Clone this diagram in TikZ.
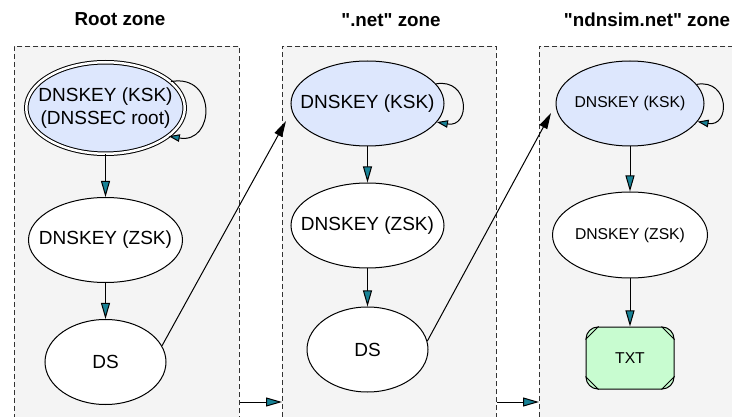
\documentclass[tikz,border=0pt]{standalone}
\usepackage{fontspec}
\setmainfont{Liberation Sans}[Ligatures=TeXOff]
\usetikzlibrary{shapes.geometric,arrows.meta}

\definecolor{zonegray}{RGB}{244,244,244}
\definecolor{kskblue}{RGB}{221,231,253}
\definecolor{txtgreen}{RGB}{200,252,208}
\definecolor{tipteal}{RGB}{24,130,150}

\tikzset{
  zonebox/.style={draw=black!80, fill=zonegray, dash pattern=on 5pt off 3pt, line width=0.8pt, inner sep=0pt, anchor=north west},
  keybox/.style={ellipse, draw, line width=1pt, fill=white, inner xsep=-24pt, inner ysep=-4pt, align=center, font=\fontsize{19}{23}\selectfont},
  kskbox/.style={keybox, fill=kskblue},
  smallkey/.style={font=\fontsize{15.7}{19}\selectfont},
  zonetitle/.style={font=\fontsize{18.8}{23}\selectfont\bfseries},
  keyedge/.style={line width=1pt, -{Triangle[length=16pt, width=9pt, fill=tipteal]}},
  selfedge/.style={line width=1pt, -{Triangle[length=11pt, width=7.5pt, fill=tipteal]}},
  dsedge/.style={line width=1pt, -{Triangle[length=16pt, width=8.5pt]}},
}

\begin{document}
\begin{tikzpicture}[x=1pt, y=1pt]
    \path[use as bounding box, clip] (0,0) rectangle (732,-417);

    % zones
    \node[zonebox, minimum width=225pt, minimum height=390pt] (rootzone) at (14,-46) {};
    \node[zonebox, minimum width=214pt, minimum height=390pt] (netzone) at (282,-46) {};
    \node[zonebox, minimum width=210pt, minimum height=390pt] (simzone) at (539,-46) {};

    \node[zonetitle] (roottitle) at (120,-19) {Root zone};
    \node[zonetitle] (nettitle) at (391,-20) {".net" zone};
    \node[zonetitle] (simtitle) at (647,-20) {"ndnsim.net" zone};

    % root zone
    \node[kskbox, double, double distance=2.5pt, minimum width=158.5pt, minimum height=91.5pt] (rksk) at (105.5,-108) {DNSKEY (KSK)\\(DNSSEC root)};
    \node[keybox, minimum width=154pt, minimum height=85pt] (rzsk) at (105.5,-240) {DNSKEY (ZSK)};
    \node[keybox, minimum width=121pt, minimum height=85pt] (rds) at (105.5,-362) {DS};

    % .net zone
    \node[kskbox, minimum width=153pt, minimum height=85pt] (nksk) at (367.5,-103.5) {DNSKEY (KSK)};
    \node[keybox, minimum width=153pt, minimum height=85pt] (nzsk) at (367.5,-225.5) {DNSKEY (ZSK)};
    \node[keybox, minimum width=121pt, minimum height=85pt] (nds) at (367.5,-349.5) {DS};

    % ndnsim.net zone
    \node[kskbox, smallkey, minimum width=148pt, minimum height=85pt] (sksk) at (630,-103.5) {DNSKEY (KSK)};
    \node[keybox, smallkey, minimum width=155pt, minimum height=86pt] (szsk) at (630,-235) {DNSKEY (ZSK)};
    \node[draw, fill=txtgreen, rounded corners=12pt, line width=1pt, minimum width=88pt, minimum height=62pt, smallkey] (stxt) at (630,-358) {TXT};
    \foreach \c/\dx/\dy in {north west/1/-1, north east/-1/-1, south west/1/1, south east/-1/1}
        \draw[line width=0.8pt] (stxt.\c) ++(\dx*13,0) -- ++(-\dx*13,\dy*13);

    \draw[keyedge] (rksk) -- (rzsk);
    \draw[keyedge] (rzsk) -- (rds);
    \draw[selfedge] (rksk.22) to[out=10, in=-10, looseness=2.2] (rksk.-24);

    \draw[keyedge] (nksk) -- (nzsk);
    \draw[keyedge] (nzsk) -- (nds);
    \draw[selfedge] (nksk.16) to[out=10, in=-10, looseness=2.3] (nksk.-15);

    \draw[keyedge] (sksk) -- (szsk);
    \draw[keyedge] (szsk) -- (stxt);
    \draw[selfedge] (sksk.16) to[out=10, in=-10, looseness=2.3] (sksk.-15);

    % links between zones
    \coordinate (netport) at (286,-121);
    \coordinate (simport) at (551,-113);
    \draw[dsedge] (rds.16) -- (netport);
    \draw[dsedge] (nds.8) -- (simport);
    \draw[keyedge] (rootzone.east |- 0,-402) -- (netzone.west |- 0,-402);
    \draw[keyedge] (netzone.east |- 0,-402) -- (simzone.west |- 0,-402);
\end{tikzpicture}
\end{document}
